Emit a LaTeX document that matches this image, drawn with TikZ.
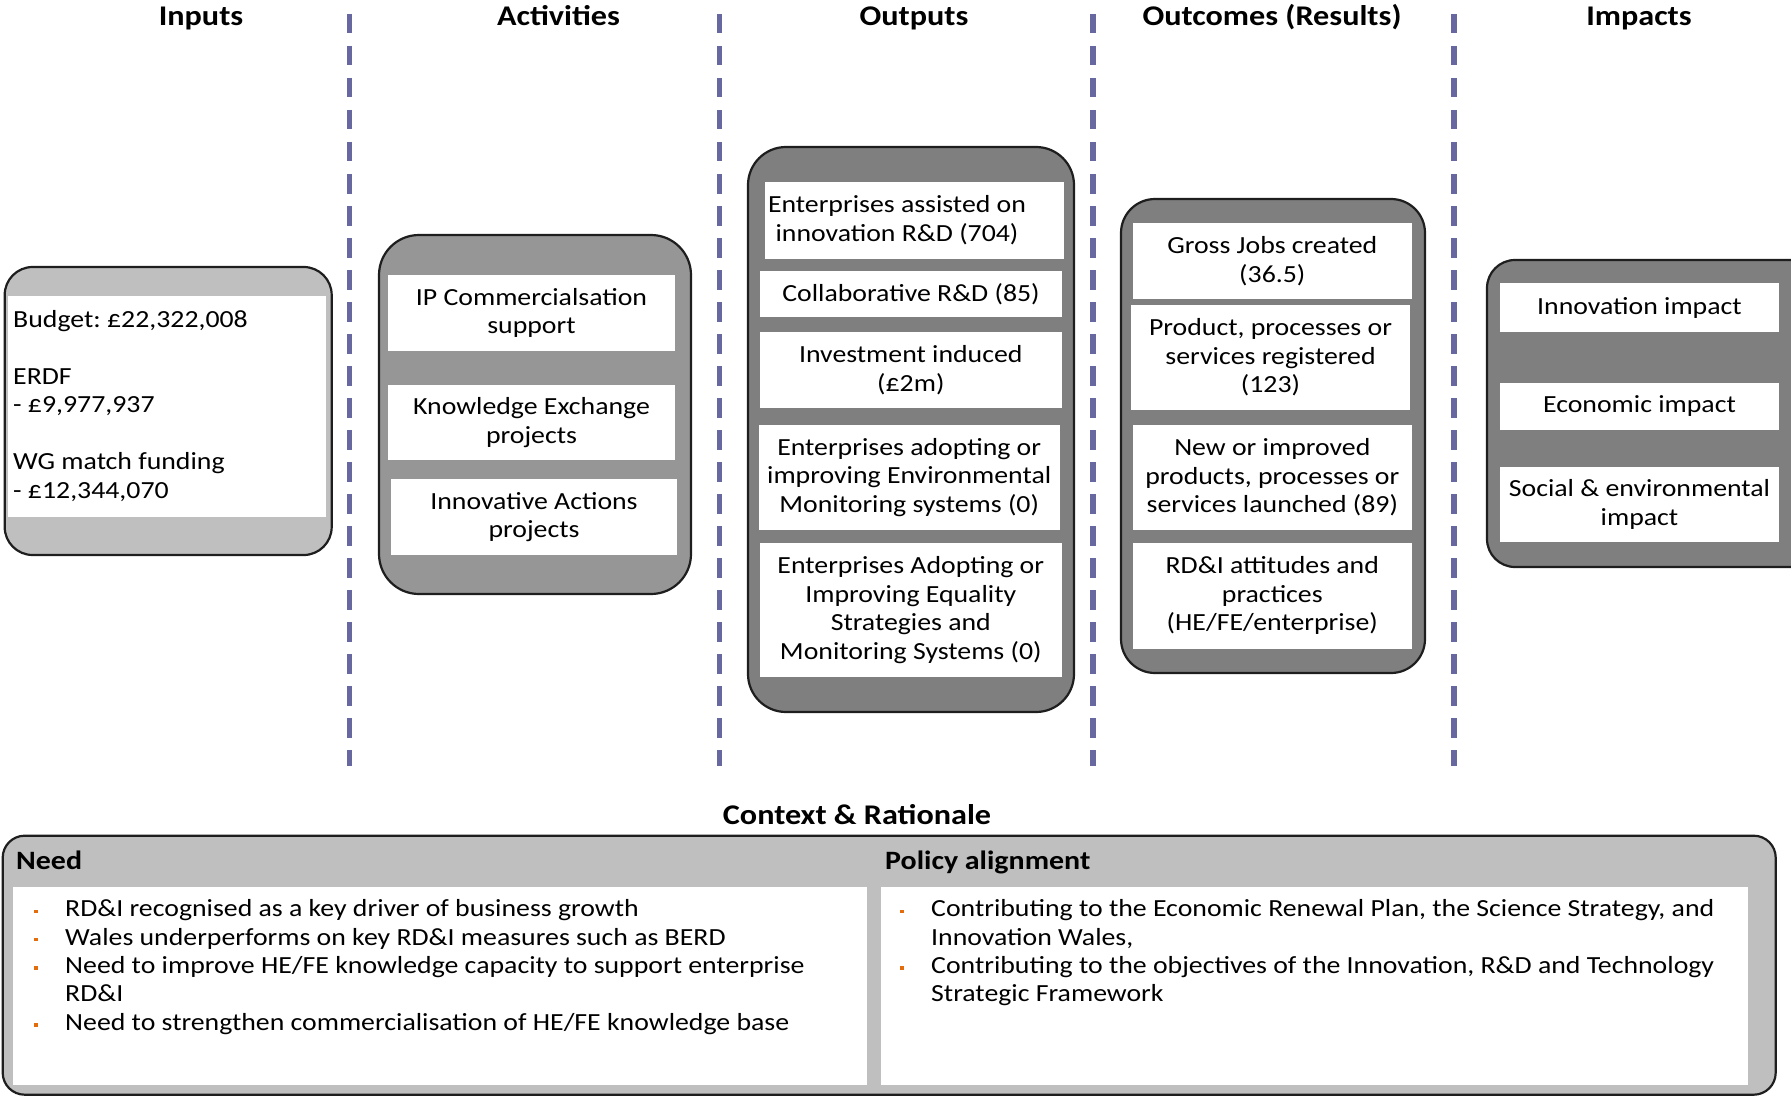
\documentclass[tikz,border=0pt]{standalone}
\usepackage{fontspec}
\setmainfont[FakeStretch=1.13]{Carlito}
\frenchspacing
\definecolor{divcol}{RGB}{104,104,160}
\definecolor{bulletcol}{RGB}{228,108,10}
\definecolor{panellight}{RGB}{191,191,191}
\definecolor{panelmid}{RGB}{150,150,150}
\definecolor{paneldark}{RGB}{127,127,127}
\definecolor{edgecol}{RGB}{30,30,30}
\begin{document}
\begin{tikzpicture}[x=1pt,y=-1pt,
  bodyfont/.style={font=\fontsize{24.6}{28.5}\selectfont},
  colhead/.style={font=\fontsize{28.5}{30}\selectfont\bfseries, anchor=base, inner sep=0pt},
  subhead/.style={font=\fontsize{26.5}{30}\selectfont\bfseries, anchor=base west, inner sep=0pt},
  panel/.style={draw=edgecol, line width=2.2pt, inner sep=0pt},
  card/.style={fill=white, inner sep=0pt, align=center, bodyfont},
  line/.style={bodyfont, anchor=base west, inner sep=0pt},
  divider/.style={draw=divcol, line width=5.5pt, dash pattern=on 19.5pt off 12.5pt},
  dot/.style={fill=bulletcol, minimum size=3.4pt, inner sep=0pt},
]
\useasboundingbox (0,0) rectangle (1791,1097);
\clip (0,0) rectangle (1791,1097);

% column headings
\node[colhead] (hin)  at (201,26)  {Inputs};
\node[colhead] (hact) at (558.5,26) {Activities};
\node[colhead] (hout) at (914,26)  {Outputs};
\node[colhead] (hres) at (1272,26) {Outcomes (Results)};
\node[colhead] (himp) at (1639,26) {Impacts};

% dashed column dividers
\foreach \i/\x in {1/349.5, 2/719.6, 3/1093.1, 4/1454} {
  \coordinate (dtop\i) at (\x,14);
  \coordinate (dbot\i) at (\x,766);
  \draw[divider] (dtop\i) -- (dbot\i);
}

% Inputs
\node[panel, fill=panellight, rounded corners=28pt, minimum width=327pt, minimum height=288pt] (inputs) at (168.2,411) {};
\node[fill=white, inner sep=0pt, minimum width=318pt, minimum height=221pt] (budgetcard) at (167,406.5) {};
\node[line] (b1) at (13,327)   {Budget: £22,322,008};
\node[line] (b2) at (13,384)   {ERDF};
\node[line] (b3) at (13,412.5) {- £9,977,937};
\node[line] (b4) at (13,469.5) {WG match funding};
\node[line] (b5) at (13,498)   {- £12,344,070};

% Activities
\node[panel, fill=panelmid, rounded corners=40pt, minimum width=312pt, minimum height=359pt] (activities) at (535,414.5) {};
\node[card, minimum width=287pt, minimum height=76pt] (act1) at (531.5,313)   {IP Commercialsation\\support};
\node[card, minimum width=287pt, minimum height=75pt] (act2) at (531.5,422.5) {Knowledge Exchange\\projects};
\node[card, minimum width=286pt, minimum height=76pt] (act3) at (534,517)     {Innovative Actions\\projects};

% Outputs
\node[panel, fill=paneldark, rounded corners=38pt, minimum width=326pt, minimum height=565pt] (outputs) at (911,429.5) {};
\node[fill=white, inner sep=0pt, minimum width=299.5pt, minimum height=77.3pt] (out1) at (914.3,220.3) {};
\node[card, fill=none] (out1text) at (897,220.3) {Enterprises assisted on\\innovation R\&D (704)};
\node[card, minimum width=302pt, minimum height=46.3pt] (out2) at (911,293.9) {Collaborative R\&D (85)};
\node[card, minimum width=302.5pt, minimum height=76pt] (out3) at (910.8,370) {Investment induced\\(£2m)};
\node[card, minimum width=301pt, minimum height=105.3pt] (out4) at (909.2,477.4) {Enterprises adopting or\\improving Environmental\\Monitoring systems (0)};
\node[card, minimum width=302.5pt, minimum height=134pt] (out5) at (910.8,610) {Enterprises Adopting or\\Improving Equality\\Strategies and\\Monitoring Systems (0)};

% Outcomes
\node[panel, fill=paneldark, rounded corners=34pt, minimum width=304pt, minimum height=474pt] (outcomes) at (1273,436) {};
\node[card, minimum width=278.5pt, minimum height=76pt]    (res1) at (1272.3,261)   {Gross Jobs created\\(36.5)};
\node[card, minimum width=279pt,   minimum height=105pt]   (res2) at (1270.5,357.5) {Product, processes or\\services registered\\(123)};
\node[card, minimum width=278.5pt, minimum height=105.3pt] (res3) at (1272.3,477.4) {New or improved\\products, processes or\\services launched (89)};
\node[card, minimum width=278.5pt, minimum height=105.6pt] (res4) at (1272.3,595.8) {RD\&I attitudes and\\practices\\(HE/FE/enterprise)};

% Impacts
\node[panel, fill=paneldark, rounded corners=28pt, minimum width=342pt, minimum height=307pt] (impacts) at (1658,413.5) {};
\node[card, minimum width=279pt, minimum height=49pt] (imp1) at (1639.5,307.5) {Innovation impact};
\node[card, minimum width=279pt, minimum height=47pt] (imp2) at (1639.5,406.5) {Economic impact};
\node[card, minimum width=279pt, minimum height=75pt] (imp3) at (1639.5,504.5) {Social \& environmental\\impact};

% Context & Rationale
\node[colhead] (hctx) at (857,824) {Context \& Rationale};
\node[panel, fill=panellight, rounded corners=22pt, minimum width=1773pt, minimum height=259pt] (context) at (889.2,965.2) {};
\node[subhead] (hneed) at (16,869)  {Need};
\node[subhead] (hpol)  at (885,869) {Policy alignment};
\node[fill=white, inner sep=0pt, minimum width=854pt, minimum height=198pt] (needcard) at (440,986) {};
\node[fill=white, inner sep=0pt, minimum width=867pt, minimum height=198pt] (polcard) at (1314.5,986) {};

% Need list
\node[line] (n1) at (65,916.7)  {RD\&I recognised as a key driver of business growth};
\node[line] (n2) at (65,945.1)  {Wales underperforms on key RD\&I measures such as BERD};
\node[line] (n3) at (65,973.5)  {Need to improve HE/FE knowledge capacity to support enterprise};
\node[line] (n3b) at (65,1001.9) {RD\&I};
\node[line] (n4) at (65,1030.3) {Need to strengthen commercialisation of HE/FE knowledge base};
\foreach \y [count=\k] in {916.7, 945.1, 973.5, 1030.3}
  \node[dot] (nb\k) at (36,\y-5.5) {};

% Policy list
\node[line] (p1)  at (931,916.7)  {Contributing to the Economic Renewal Plan, the Science Strategy, and};
\node[line] (p1b) at (931,945.1)  {Innovation Wales,};
\node[line] (p2)  at (931,973.5)  {Contributing to the objectives of the Innovation, R\&D and Technology};
\node[line] (p2b) at (931,1001.9) {Strategic Framework};
\foreach \y [count=\k] in {916.7, 973.5}
  \node[dot] (pb\k) at (902,\y-5.5) {};
\end{tikzpicture}
\end{document}
